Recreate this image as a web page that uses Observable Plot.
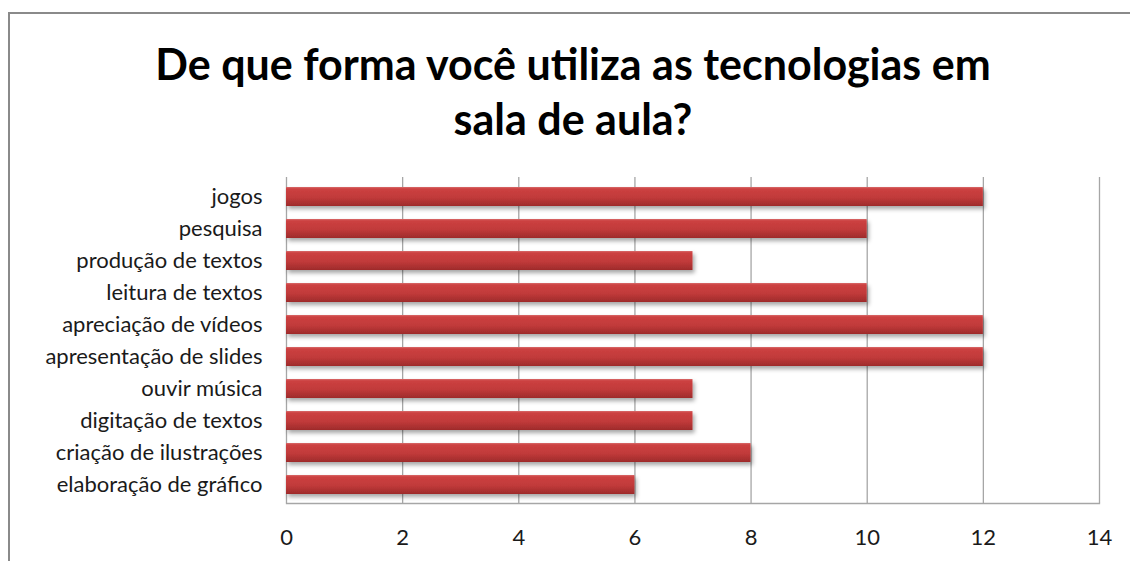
<!DOCTYPE html>
<html>
<head>
<meta charset="utf-8">
<script src="https://cdn.jsdelivr.net/npm/d3@7"></script>
<script src="https://cdn.jsdelivr.net/npm/@observablehq/plot@0.6"></script>
<style>
  html, body { margin: 0; padding: 0; background: #fff; width: 1130px; height: 561px; overflow: hidden; }
  #frame { position: absolute; left: 8px; top: 12px; width: 1130px; height: 560px;
           border-left: 2px solid #8a8a8a; border-top: 2px solid #8a8a8a; }
  #title { position: absolute; left: 0; top: 36px; width: 1146px; text-align: center;
           font-family: Lato, "Open Sans", sans-serif; font-weight: bold; font-size: 43px;
           line-height: 55px; color: #000; }
  #chart { position: absolute; left: 0; top: 170px; }
</style>
</head>
<body>
<div id="frame"></div>
<div id="title">De que forma você utiliza as tecnologias em<br>sala de aula?</div>
<div id="chart"></div>
<script>
const categories = ["jogos", "pesquisa", "produção de textos", "leitura de textos", "apreciação de vídeos",
  "apresentação de slides", "ouvir música", "digitação de textos", "criação de ilustrações", "elaboração de gráfico"];
const values = [12, 10, 7, 10, 12, 12, 7, 7, 8, 6];
const xTicks = [0, 2, 4, 6, 8, 10, 12, 14];

const data = categories.map((c, i) => ({category: c, value: values[i]}));

const plot = Plot.plot({
  width: 1130,
  height: 391,
  marginLeft: 286,
  marginRight: 31,
  marginTop: 7,
  marginBottom: 58,
  style: {fontFamily: "Lato, 'Open Sans', sans-serif", fontSize: "22px", color: "#1a1a1a", background: "transparent"},
  x: {domain: [0, 14], ticks: xTicks, tickSize: 0, tickPadding: 26, label: null},
  y: {domain: categories, paddingInner: 0.42, paddingOuter: 0.21, tickSize: 0, tickPadding: 24, label: null},
  marks: [
    Plot.ruleX(xTicks, {stroke: "#a6a6a6", strokeWidth: 1.3}),
    Plot.frame({anchor: "bottom", stroke: "#a6a6a6", strokeWidth: 1.3}),
    Plot.barX(data, {x: "value", y: "category", fill: "url(#barGrad)"}),
    Plot.axisX({ticks: xTicks, tickSize: 0, tickPadding: 26, anchor: "bottom"}),
    Plot.axisY({tickSize: 0, tickPadding: 24, anchor: "left"})
  ]
});

const svg = d3.select(plot);
const defs = svg.insert("defs", ":first-child");
const grad = defs.append("linearGradient").attr("id", "barGrad").attr("x1", 0).attr("y1", 0).attr("x2", 0).attr("y2", 1);
grad.append("stop").attr("offset", "0%").attr("stop-color", "#d86a6a");
grad.append("stop").attr("offset", "10%").attr("stop-color", "#cc4040");
grad.append("stop").attr("offset", "55%").attr("stop-color", "#c13a3a");
grad.append("stop").attr("offset", "100%").attr("stop-color", "#9e2b2b");
const filt = defs.append("filter").attr("id", "shadow").attr("x", "-5%").attr("y", "-30%").attr("width", "110%").attr("height", "180%");
filt.append("feDropShadow").attr("dx", 2).attr("dy", 3).attr("stdDeviation", 2).attr("flood-color", "#000").attr("flood-opacity", 0.35);
svg.selectAll("g[aria-label='bar'] rect").attr("filter", "url(#shadow)");

document.getElementById("chart").appendChild(plot);
</script>
</body>
</html>
